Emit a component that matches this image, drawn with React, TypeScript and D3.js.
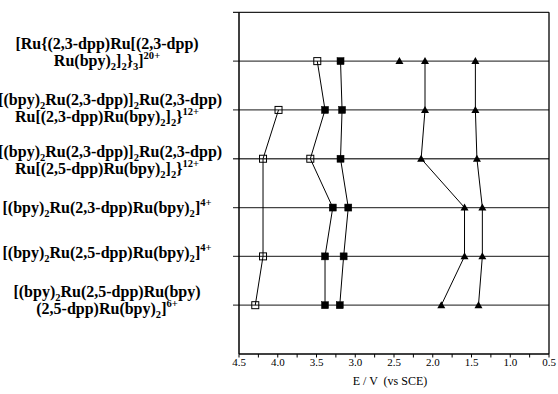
import React from "react";
import * as d3 from "d3";

// Complexes, top to bottom (markup: _{..} subscript, ^{..} superscript)
const complexLabels: string[][] = [
  ["[Ru{(2,3-dpp)Ru[(2,3-dpp)", "Ru(bpy)_{2}]_{2}}_{3}]^{20+}"],
  ["{[(bpy)_{2}Ru(2,3-dpp)]_{2}Ru(2,3-dpp)", "Ru[(2,3-dpp)Ru(bpy)_{2}]_{2}}^{12+}"],
  ["{[(bpy)_{2}Ru(2,3-dpp)]_{2}Ru(2,3-dpp)", "Ru[(2,5-dpp)Ru(bpy)_{2}]_{2}}^{12+}"],
  ["[(bpy)_{2}Ru(2,3-dpp)Ru(bpy)_{2}]^{4+}"],
  ["[(bpy)_{2}Ru(2,5-dpp)Ru(bpy)_{2}]^{4+}"],
  ["[(bpy)_{2}Ru(2,5-dpp)Ru(bpy)", "(2,5-dpp)Ru(bpy)_{2}]^{6+}"],
];

// Baseline offsets (px) of each label line from its row
const labelOffsets: number[][] = [[-12, 5], [-5, 12], [-2, 15], [5], [2], [-8.5, 8.5]];

// Redox potentials E / V vs SCE per complex (null = no process observed)
const waveA: (number | null)[] = [null, 3.99, 4.19, null, 4.19, 4.29];
const waveB: number[] = [3.49, 3.39, 3.58, 3.29, 3.39, 3.39];
const waveBOpen: boolean[] = [true, false, true, false, false, false];
const waveC: number[] = [3.19, 3.17, 3.19, 3.09, 3.15, 3.2];
const waveD: number[] = [2.1, 2.1, 2.15, 1.59, 1.59, 1.89];
const waveE: number[] = [1.45, 1.45, 1.43, 1.36, 1.36, 1.41];
const extraTriangle: (number | null)[] = [2.43, null, null, null, null, null];

const xTicks: number[] = [4.5, 4.0, 3.5, 3.0, 2.5, 2.0, 1.5, 1.0, 0.5];
const xMinorTicks: number[] = d3.range(0, 17).map((i) => 4.5 - i * 0.25);

const W = 558;
const H = 394;
const left = 239;
const right = 549;
const top = 12.3;
const bottom = 354;

const x = d3.scaleLinear().domain([4.5, 0.5]).range([left, right]);
const y = d3.scaleLinear().domain([0, 7]).range([top, bottom]);

const serif = "'Liberation Serif', 'Times New Roman', serif";

function renderMarkup(s: string, baseSize: number) {
  const parts: { text: string; kind: "n" | "sub" | "sup" }[] = [];
  const re = /(_|\^)\{([^}]*)\}/g;
  let last = 0;
  let m: RegExpExecArray | null;
  while ((m = re.exec(s)) !== null) {
    if (m.index > last) parts.push({ text: s.slice(last, m.index), kind: "n" });
    parts.push({ text: m[2], kind: m[1] === "_" ? "sub" : "sup" });
    last = m.index + m[0].length;
  }
  if (last < s.length) parts.push({ text: s.slice(last), kind: "n" });
  let shift = 0;
  return parts.map((p, i) => {
    const target = p.kind === "sub" ? 4 : p.kind === "sup" ? -7 : 0;
    const dy = target - shift;
    shift = target;
    const size = p.kind === "n" ? baseSize : baseSize * 0.66;
    return (
      <tspan key={i} dy={dy} fontSize={size}>
        {p.text}
      </tspan>
    );
  });
}

type Pt = { v: number; row: number };

function pts(vals: (number | null)[]): Pt[] {
  return vals
    .map((v, i) => ({ v: v as number, row: i + 1 }))
    .filter((p) => p.v !== null && p.v !== undefined);
}

const line = d3
  .line<Pt>()
  .x((d) => x(d.v))
  .y((d) => y(d.row));

function Square({ p, open }: { p: Pt; open: boolean }) {
  const s = 7;
  return (
    <rect
      x={x(p.v) - s / 2}
      y={y(p.row) - s / 2}
      width={s}
      height={s}
      fill={open ? "none" : "#000"}
      stroke="#000"
      strokeWidth={open ? 1 : 0.5}
    />
  );
}

function Triangle({ p }: { p: Pt }) {
  const cx = x(p.v);
  const cy = y(p.row);
  const w = 8;
  const h = 7;
  return (
    <path
      d={`M${cx - w / 2},${cy + h / 2 - 0.5}L${cx + w / 2},${cy + h / 2 - 0.5}L${cx},${cy - h / 2 - 0.5}Z`}
      fill="#000"
    />
  );
}

export default function App() {
  const rows = d3.range(1, 7);
  const series = [waveA, waveB, waveC, waveD, waveE];
  return (
    <svg
      width={W}
      height={H}
      style={{ position: "absolute", left: 0, top: 0, background: "#fff" }}
      fontFamily={serif}
    >
      {/* row guide lines and top frame */}
      {[0, ...rows].map((r) => (
        <line
          key={r}
          x1={left - 6}
          x2={right}
          y1={y(r)}
          y2={y(r)}
          stroke={r === 0 ? "#222" : "#444"}
          strokeWidth={r === 0 ? 1.2 : 1.3}
        />
      ))}
      {/* frame sides */}
      <line x1={left} x2={left} y1={top} y2={bottom} stroke="#000" strokeWidth={1.5} />
      <line x1={right} x2={right} y1={top} y2={bottom} stroke="#000" strokeWidth={1.3} />
      {/* bottom axis */}
      <line x1={left} x2={right} y1={bottom} y2={bottom} stroke="#000" strokeWidth={1.5} />
      {xMinorTicks.map((t) => (
        <line key={t} x1={x(t)} x2={x(t)} y1={bottom} y2={bottom + 3.5} stroke="#000" strokeWidth={1} />
      ))}
      {xTicks.map((t) => (
        <text key={t} x={x(t)} y={366} textAnchor="middle" fontSize={11}>
          {t.toFixed(1)}
        </text>
      ))}
      <text x={390} y={385} textAnchor="middle" fontSize={12} style={{ whiteSpace: "pre" }}>
        {"E / V  (vs SCE)"}
      </text>

      {/* connecting lines */}
      {series.map((s, i) => (
        <path key={i} d={line(pts(s)) || ""} fill="none" stroke="#000" strokeWidth={1} />
      ))}

      {/* markers */}
      {pts(waveA).map((p, i) => (
        <Square key={"a" + i} p={p} open={true} />
      ))}
      {pts(waveB).map((p, i) => (
        <Square key={"b" + i} p={p} open={waveBOpen[p.row - 1]} />
      ))}
      {pts(waveC).map((p, i) => (
        <Square key={"c" + i} p={p} open={false} />
      ))}
      {[...pts(waveD), ...pts(waveE), ...pts(extraTriangle)].map((p, i) => (
        <Triangle key={"t" + i} p={p} />
      ))}

      {/* complex labels */}
      {complexLabels.map((lines, i) =>
        lines.map((ln, j) => (
          <text
            key={i + "-" + j}
            x={107}
            y={y(i + 1) + labelOffsets[i][j]}
            textAnchor="middle"
            fontSize={16}
            fontWeight="bold"
          >
            {renderMarkup(ln, 16)}
          </text>
        ))
      )}
    </svg>
  );
}
